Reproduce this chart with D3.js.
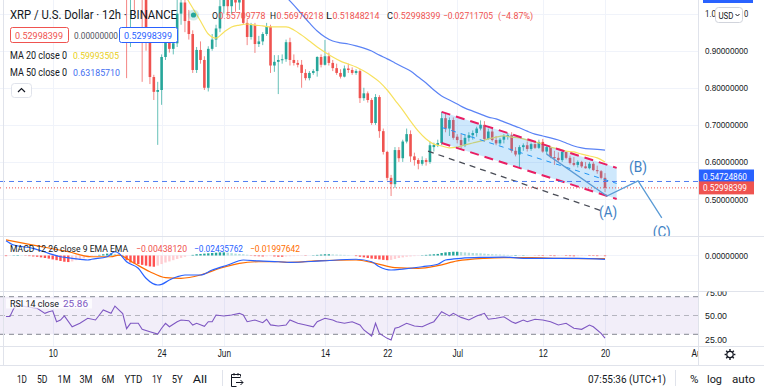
<!DOCTYPE html>
<html lang="en">
<head>
<meta charset="UTF-8">
<title>XRP / U.S. Dollar · 12h · BINANCE</title>
<script src="https://cdn.jsdelivr.net/npm/d3@7/dist/d3.min.js"></script>
<style>
  body { margin: 0; background: #fff; }
  svg { display: block; font-family: Roboto, "Liberation Sans", sans-serif; }
</style>
</head>
<body>
<svg id="chart" width="764" height="388"></svg>
<script>
// 12h candles, the first one opens 2021-05-04 00:00 UTC
var firstCandle = Date.UTC(2021, 4, 4);

var opens = [
  1.40,1.47,1.36,1.45,1.53,1.58,1.55,1.52,1.56,1.58,
  1.60,1.52,1.55,1.50,1.33,1.40,1.45,1.48,1.25,1.20,
  1.30,1.42,1.50,1.44,1.38,1.42,1.35,1.38,1.32,1.45,
  1.42,1.38,1.05,1.12,1.08,1.12,1.06,0.93,0.829,0.789,
  0.794,0.883,0.929,0.905,0.92,1.00,1.03,0.98,0.945,0.848,
  0.902,0.875,0.80,0.905,0.93,0.96,1.02,1.04,1.02,1.05,
  1.03,1.05,0.975,0.937,0.969,0.918,0.925,0.945,0.965,0.86,
  0.87,0.875,0.877,0.923,0.875,0.867,0.862,0.84,0.826,0.84,
  0.845,0.883,0.862,0.885,0.867,0.853,0.84,0.83,0.852,0.848,
  0.84,0.845,0.772,0.785,0.767,0.705,0.775,0.683,0.627,0.557,
  0.54,0.632,0.61,0.655,0.675,0.615,0.605,0.595,0.605,0.60,
  0.64,0.646,0.651,0.718,0.69,0.713,0.668,0.659,0.645,0.665,
  0.672,0.678,0.69,0.70,0.662,0.682,0.659,0.65,0.66,0.67,
  0.672,0.63,0.62,0.64,0.645,0.635,0.648,0.638,0.654,0.628,
  0.64,0.613,0.611,0.605,0.627,0.611,0.597,0.592,0.60,0.588,
  0.583,0.595,0.578,0.575,0.55709778
];
var highs = [
  1.52,1.50,1.48,1.58,1.62,1.60,1.58,1.60,1.63,1.66,
  1.62,1.58,1.57,1.52,1.43,1.48,1.52,1.50,1.28,1.32,
  1.45,1.55,1.52,1.46,1.45,1.47,1.40,1.42,1.48,1.50,
  1.44,1.40,1.20,1.18,1.16,1.14,1.08,0.95,0.835,0.816,
  0.89,0.94,0.95,0.935,1.05,1.07,1.06,1.01,0.955,0.91,
  0.925,0.885,0.912,0.945,0.97,1.07,1.08,1.10,1.08,1.09,
  1.07,1.06,0.985,0.975,0.975,0.94,0.95,0.975,0.97,0.888,
  0.888,0.89,0.93,0.935,0.89,0.875,0.875,0.85,0.845,0.85,
  0.885,0.89,0.929,0.895,0.875,0.865,0.85,0.86,0.865,0.855,
  0.85,0.85,0.80,0.79,0.772,0.783,0.78,0.69,0.63,0.565,
  0.64,0.64,0.66,0.69,0.685,0.625,0.61,0.615,0.61,0.655,
  0.652,0.66,0.735,0.73,0.72,0.72,0.675,0.675,0.675,0.68,
  0.685,0.695,0.712,0.71,0.69,0.69,0.67,0.665,0.675,0.678,
  0.68,0.64,0.645,0.65,0.655,0.652,0.65,0.66,0.662,0.645,
  0.642,0.63,0.626,0.63,0.628,0.617,0.613,0.604,0.603,0.60,
  0.60,0.60,0.59,0.578,0.56976218
];
var lows = [
  1.36,1.30,1.33,1.42,1.50,1.49,1.46,1.50,1.53,1.55,
  1.48,1.47,1.43,1.28,1.30,1.37,1.42,1.20,1.08,1.15,
  1.28,1.40,1.38,1.34,1.35,1.31,1.27,1.28,1.30,1.38,
  1.33,0.826,0.91,1.00,1.04,0.816,0.90,0.81,0.767,0.646,
  0.754,0.875,0.895,0.89,0.91,0.97,0.95,0.93,0.84,0.84,
  0.865,0.794,0.79,0.90,0.91,0.95,1.00,0.99,1.00,1.005,
  1.01,0.97,0.915,0.93,0.894,0.91,0.915,0.94,0.84,0.843,
  0.783,0.865,0.87,0.86,0.86,0.855,0.80,0.82,0.82,0.835,
  0.83,0.855,0.86,0.86,0.845,0.835,0.825,0.828,0.84,0.835,
  0.835,0.759,0.765,0.76,0.70,0.70,0.665,0.62,0.55,0.508,
  0.53,0.60,0.60,0.65,0.60,0.59,0.58,0.59,0.59,0.595,
  0.628,0.64,0.645,0.68,0.67,0.66,0.65,0.635,0.64,0.655,
  0.66,0.668,0.685,0.655,0.66,0.655,0.645,0.645,0.65,0.66,
  0.625,0.615,0.586,0.63,0.628,0.63,0.635,0.635,0.625,0.62,
  0.61,0.592,0.60,0.60,0.607,0.593,0.588,0.585,0.584,0.582,
  0.58,0.575,0.568,0.553,0.51848214
];
var closes = [
  1.47,1.36,1.45,1.53,1.58,1.55,1.52,1.56,1.58,1.60,
  1.52,1.55,1.50,1.33,1.40,1.45,1.48,1.25,1.20,1.30,
  1.42,1.50,1.44,1.38,1.42,1.35,1.38,1.32,1.45,1.42,
  1.38,1.05,1.12,1.08,1.12,1.06,0.93,0.829,0.789,0.794,
  0.883,0.929,0.905,0.92,1.00,1.03,0.98,0.945,0.848,0.902,
  0.875,0.80,0.905,0.93,0.96,1.02,1.04,1.02,1.05,1.03,
  1.05,0.975,0.937,0.969,0.918,0.925,0.945,0.965,0.86,0.87,
  0.875,0.877,0.923,0.875,0.867,0.862,0.84,0.826,0.84,0.845,
  0.883,0.862,0.885,0.867,0.853,0.84,0.83,0.852,0.848,0.84,
  0.845,0.772,0.785,0.767,0.705,0.775,0.683,0.627,0.557,0.54,
  0.632,0.61,0.655,0.675,0.615,0.605,0.595,0.605,0.60,0.645,
  0.646,0.651,0.718,0.69,0.713,0.665,0.659,0.645,0.665,0.672,
  0.678,0.69,0.70,0.662,0.682,0.659,0.65,0.66,0.67,0.672,
  0.63,0.62,0.64,0.645,0.635,0.648,0.638,0.654,0.628,0.64,
  0.613,0.611,0.605,0.627,0.611,0.597,0.592,0.60,0.588,0.583,
  0.595,0.578,0.575,0.557,0.52998399
];

// moving averages, one value per day (00:00 UTC)
var ma20Start = Date.UTC(2021, 4, 27);
var ma20 = [1.05,1.015,0.980,0.945,0.934,0.950,0.964,0.969,0.972,0.969,0.967,0.964,0.964,0.964,
  0.956,0.942,0.926,0.910,0.896,0.883,0.872,0.864,0.856,0.845,0.832,0.816,0.794,0.767,0.740,0.710,
  0.683,0.662,0.648,0.643,0.638,0.640,0.646,0.651,0.656,0.662,0.667,0.670,0.667,0.665,0.659,0.654,
  0.648,0.640,0.635,0.629,0.627,0.621,0.616,0.611,0.59993505];
var ma50Start = Date.UTC(2021, 5, 9);
var ma50 = [1.045,1.023,0.999,0.975,0.953,0.937,0.926,0.921,0.918,0.913,0.907,0.899,0.888,0.878,
  0.867,0.856,0.845,0.829,0.813,0.794,0.778,0.767,0.756,0.745,0.737,0.729,0.721,0.716,0.708,0.700,
  0.692,0.683,0.675,0.670,0.665,0.659,0.651,0.643,0.638,0.635,0.634,0.63185710];

// MACD 12 26 9, read at candle numbers
var macdAt = [0,2,7,11,14,17,21,22,26,28,29,31,34,36,39,40,42,44,46,50,53,57,61,65,70,73,81,90,94,96,99,102,107,111,113,117,123,128,133,140,147,154];
var macdLine = [0.095,0.067,0.046,0.014,-0.008,-0.018,-0.029,-0.024,-0.008,0.024,0.014,-0.04,-0.082,-0.146,-0.189,-0.185,-0.157,-0.136,-0.125,-0.125,-0.093,-0.061,-0.029,-0.035,-0.04,-0.044,-0.035,-0.024,-0.04,-0.072,-0.093,-0.087,-0.072,-0.056,-0.029,-0.018,-0.012,-0.01,-0.018,-0.018,-0.018,-0.02435762];
var signalAt = [0,7,16,22,27,29,33,37,41,45,50,55,60,65,70,73,81,90,95,100,106,111,116,123,128,135,142,154];
var signalLine = [0.10,0.067,0.024,-0.008,-0.008,0.003,-0.05,-0.104,-0.142,-0.146,-0.125,-0.082,-0.05,-0.04,-0.04,-0.044,-0.033,-0.029,-0.05,-0.078,-0.082,-0.065,-0.035,-0.018,-0.014,-0.014,-0.018,-0.01997642];
var histogram = [
  -0.004,-0.002,0.002,0.003,0.002,-0.002,-0.004,-0.006,-0.008,
  -0.012,-0.016,-0.02,-0.025,-0.03,-0.035,-0.04,-0.042,-0.038,-0.03,-0.024,-0.018,
  -0.012,-0.006,-0.002,0.004,0.008,0.012,0.014,0.01,0.006,0.004,
  -0.03,-0.045,-0.05,-0.055,-0.06,-0.065,-0.07,-0.072,
  -0.065,-0.055,-0.045,-0.038,-0.03,-0.022,-0.015,-0.008,
  0.0,0.004,0.008,0.01,0.012,0.014,0.016,0.018,0.02,0.02,0.018,0.015,0.012,0.01,0.008,0.005,
  -0.002,-0.004,-0.005,-0.006,-0.005,-0.004,-0.006,-0.008,
  -0.008,-0.006,-0.005,-0.004,-0.003,-0.002,-0.002,0.0,0.002,0.004,
  0.006,0.008,0.008,0.007,0.006,0.005,0.004,0.002,0.0,
  -0.004,-0.008,-0.012,-0.016,-0.02,-0.022,-0.025,-0.028,-0.03,-0.028,
  -0.022,-0.016,-0.012,-0.008,-0.006,-0.004,-0.002,
  0.002,0.004,0.006,0.008,0.01,0.016,0.02,0.022,0.024,0.024,0.022,0.02,0.018,0.016,0.015,0.014,0.012,0.01,0.008,
  0.007,0.006,0.005,0.004,0.003,0.003,0.002,0.002,0.001,0.0,
  -0.001,-0.002,-0.003,-0.002,-0.003,-0.004,-0.003,-0.002,-0.003,-0.004,-0.005,-0.004,-0.003,-0.002,-0.003,-0.003,-0.004,-0.003,-0.00438120
];

// RSI 14, read at candle numbers
var rsiAt = [0,1,2,3,5,8,10,11,12,13,14,15,17,19,21,23,24,25,27,28,29,30,31,32,34,35,37,39,40,41,42,44,45,47,48,49,51,52,53,54,56,58,60,61,62,64,66,67,68,70,72,73,75,77,79,80,82,84,85,87,89,91,92,94,95,96,98,99,100,101,103,105,107,109,110,112,114,115,117,119,121,123,124,126,128,130,131,133,134,136,138,140,142,144,146,148,150,151,153,154];
var rsi = [49,49,57.7,61,59.4,57.7,52.3,54,55,43.4,45.2,49.5,38,41.7,47,45.2,50.5,55.9,52.3,60,56,52,36,41.7,41.7,35.3,32.8,30.3,36.4,41.7,38,43.4,45.2,44.5,39.9,41.7,38.5,43.4,43.4,50.5,49.5,50.5,52.3,50.5,43.4,45.2,42.3,46,40,38.8,39.9,45.2,41.7,39.9,38,43.4,47,45.2,43.4,41.7,43.4,39.9,34.6,28.2,41.7,31,25.7,24,36.4,37.4,41.7,38.8,38,41.7,43.4,54,49.5,52.3,48,45.2,49.5,52.3,46,47,48.7,43.4,41.7,45.2,43.4,46,45.2,43.4,39.9,41.7,36.4,35.3,39.9,38,31,25.86];

// drawings: [candle number, price]
var channelTop = [[112, 0.735], [157, 0.584]];
var channelMid = [[112, 0.693], [157, 0.542]];
var channelBottom = [[112, 0.651], [157, 0.500]];
var supportLine = [[108.5, 0.629], [153.2, 0.468]];
var wave = [[139, 0.621], [154.5, 0.508], [162.5, 0.549], [168.6, 0.449]];
var waveLabels = ["(A)", "(B)", "(C)"];
var waveLabelAt = [[154.8, 0.465], [162.5, 0.586], [168.6, 0.411]];
var markedPrice = 0.54724860;
var lastPrice = 0.52998399;

var priceTicks = [0.5, 0.6, 0.7, 0.8, 0.9];
var topTick = 1.0;
var rsiTicks = [75, 50, 25];
var rsiLevels = [70, 50, 30];
var timeTicks = ["2021-05-10","2021-05-24","2021-06-01","2021-06-14","2021-06-22","2021-07-01","2021-07-12","2021-07-20","2021-08-01"];
var timeLabels = ["10","24","Jun","14","22","Jul","12","20","Aug"];

var UP = "#26a69a", DOWN = "#ef5350";
var HALF_DAY = 12 * 3600 * 1000, DAY = 2 * HALF_DAY;

var svg = d3.select("#chart");

var x = d3.scaleUtc()
    .domain([new Date(Date.UTC(2021, 4, 10)), new Date(Date.UTC(2021, 6, 20))])
    .range([52.7, 605]);
var y = d3.scaleLinear().domain([0.5, 0.9]).range([199, 50.7]);
var yMacd = d3.scaleLinear().domain([0, -0.1]).range([255.5, 271.1]);
var yRsi = d3.scaleLinear().domain([30, 70]).range([334.3, 296.7]);

function cx(i) { return x(new Date(firstCandle + i * HALF_DAY)); }

function label(g, px, py, s, o) {
    o = o || {};
    var t = g.append("text").attr("x", px).attr("y", py).text(s)
        .attr("font-size", o.size || 10)
        .attr("fill", o.fill || "#131722");
    if (o.anchor) t.attr("text-anchor", o.anchor);
    if (o.w) t.attr("textLength", o.w).attr("lengthAdjust", "spacingAndGlyphs");
    return t;
}

// squeeze text horizontally like the screenshot
function squeeze(sel, k) {
    sel.each(function () {
        var n = this.getComputedTextLength();
        this.setAttribute("textLength", n * k);
        this.setAttribute("lengthAdjust", "spacingAndGlyphs");
    });
}

var defs = svg.append("defs");
defs.append("clipPath").attr("id", "clipMain").append("rect")
    .attr("x", 0).attr("y", 0).attr("width", 698).attr("height", 236.5);
defs.append("clipPath").attr("id", "clipMacd").append("rect")
    .attr("x", 0).attr("y", 237).attr("width", 698).attr("height", 54);
defs.append("clipPath").attr("id", "clipRsi").append("rect")
    .attr("x", 0).attr("y", 291.5).attr("width", 698).attr("height", 55);
defs.append("clipPath").attr("id", "clipRsiAxis").append("rect")
    .attr("x", 699).attr("y", 291.5).attr("width", 65).attr("height", 55);
defs.append("clipPath").attr("id", "clipTime").append("rect")
    .attr("x", 0).attr("y", 347).attr("width", 698).attr("height", 18);

svg.append("rect").attr("width", 764).attr("height", 388).attr("fill", "#fff");

// grid
var grid = svg.append("g").attr("stroke", "#f0f3fa").attr("stroke-width", 1);
timeTicks.forEach(function (d) {
    var gx = Math.round(x(new Date(d + "T00:00Z"))) + 0.5;
    if (gx < 698) grid.append("line").attr("x1", gx).attr("x2", gx).attr("y1", 0).attr("y2", 346);
});
priceTicks.concat([topTick]).forEach(function (p) {
    var gy = Math.round(y(p)) + 0.5;
    grid.append("line").attr("x1", 0).attr("x2", 698).attr("y1", gy).attr("y2", gy);
});
grid.append("line").attr("x1", 0).attr("x2", 698).attr("y1", 255.5).attr("y2", 255.5);

// ---------- main pane ----------
var main = svg.append("g").attr("clip-path", "url(#clipMain)");
var candles = closes.map(function (c, i) {
    return { i: i, o: opens[i], h: highs[i], l: lows[i], c: c };
});

main.selectAll(".wick").data(candles).join("line")
    .attr("class", "wick")
    .attr("x1", function (d) { return cx(d.i); })
    .attr("x2", function (d) { return cx(d.i); })
    .attr("y1", function (d) { return y(d.h); })
    .attr("y2", function (d) { return y(d.l); })
    .attr("stroke", function (d) { return d.c >= d.o ? UP : DOWN; })
    .attr("stroke-opacity", 0.7)
    .attr("stroke-width", 1);

main.selectAll(".body").data(candles).join("rect")
    .attr("class", "body")
    .attr("x", function (d) { return cx(d.i) - 1.3; })
    .attr("width", 2.6)
    .attr("y", function (d) { return y(Math.max(d.o, d.c)); })
    .attr("height", function (d) { return Math.max(1, Math.abs(y(d.o) - y(d.c))); })
    .attr("fill", function (d) { return d.c >= d.o ? UP : DOWN; });

var maLine = d3.line()
    .x(function (d) { return x(d[0]); })
    .y(function (d) { return y(d[1]); })
    .curve(d3.curveMonotoneX);

main.append("path")
    .datum(ma20.map(function (v, k) { return [new Date(ma20Start + k * DAY), v]; }))
    .attr("d", maLine).attr("fill", "none").attr("stroke", "#f7e15e").attr("stroke-width", 1.2);
main.append("path")
    .datum(ma50.map(function (v, k) { return [new Date(ma50Start + k * DAY), v]; }))
    .attr("d", maLine).attr("fill", "none").attr("stroke", "#5b83f5").attr("stroke-width", 1.2);

// parallel channel
var pt = function (a) { return [cx(a[0]), y(a[1])]; };
main.append("path")
    .attr("d", d3.line()([pt(channelTop[0]), pt(channelTop[1]), pt(channelBottom[1]), pt(channelBottom[0])]) + "Z")
    .attr("fill", "#2196f3").attr("fill-opacity", 0.22);
[channelTop, channelBottom].forEach(function (seg) {
    main.append("path").attr("d", d3.line()(seg.map(pt)))
        .attr("stroke", "#e91e63").attr("stroke-width", 2)
        .attr("stroke-dasharray", "9,6").attr("fill", "none");
});
main.append("path").attr("d", d3.line()(channelMid.map(pt)))
    .attr("stroke", "#2196f3").attr("stroke-width", 1)
    .attr("stroke-dasharray", "5,5").attr("fill", "none");

// support line
main.append("path").attr("d", d3.line()(supportLine.map(pt)))
    .attr("stroke", "#4a4d57").attr("stroke-width", 1.3)
    .attr("stroke-dasharray", "6,5").attr("fill", "none");

// horizontal price lines
main.append("line").attr("x1", 0).attr("x2", 698)
    .attr("y1", y(markedPrice)).attr("y2", y(markedPrice))
    .attr("stroke", "#4f7df0").attr("stroke-width", 1).attr("stroke-dasharray", "5,4");
main.append("line").attr("x1", 0).attr("x2", 698)
    .attr("y1", y(lastPrice)).attr("y2", y(lastPrice))
    .attr("stroke", "#ef5350").attr("stroke-width", 1).attr("stroke-dasharray", "1,2");

// wave count
main.append("path").attr("d", d3.line()(wave.map(pt)))
    .attr("stroke", "#5b9bd5").attr("stroke-width", 1.3).attr("fill", "none");
waveLabels.forEach(function (s, k) {
    var p = pt(waveLabelAt[k]);
    label(main, p[0], p[1], s, { size: 14, fill: "#3f82c4", anchor: "middle", w: 18 })
        .attr("dominant-baseline", "central");
});

// legend
var leg = svg.append("g");
label(leg, 10, 19.3, "XRP / U.S. Dollar · 12h · BINANCE", { size: 12, w: 167 });
leg.append("circle").attr("cx", 193.5).attr("cy", 15).attr("r", 5.5).attr("fill", UP).attr("fill-opacity", 0.2);
leg.append("circle").attr("cx", 193.5).attr("cy", 15).attr("r", 2.6).attr("fill", UP);
var ohlcNames = ["O", "H", "L", "C"];
var ohlcValues = ["0.55709778", "0.56976218", "0.51848214", "0.52998399"];
var ohlcX = [212, 270, 326, 387];
ohlcNames.forEach(function (n, k) {
    label(leg, ohlcX[k], 19.3, n, { size: 8.8, w: 6 });
    label(leg, ohlcX[k] + 6.5, 19.3, ohlcValues[k], { size: 8.8, fill: DOWN, w: 47 });
});
label(leg, 443, 19.3, "\u22120.02711705", { size: 8.8, fill: DOWN, w: 50 });
label(leg, 498, 19.3, "(\u22124.87%)", { size: 8.8, fill: DOWN, w: 35 });

leg.append("rect").attr("x", 10.5).attr("y", 27.5).attr("width", 58).attr("height", 15).attr("rx", 2)
    .attr("fill", "#fff").attr("stroke", "#ef5350");
label(leg, 15, 38.5, "0.52998399", { size: 9, fill: DOWN, w: 48 });
label(leg, 74, 38.5, "0.00000000", { size: 9, fill: "#50535e", w: 44 });
leg.append("rect").attr("x", 119.5).attr("y", 27.5).attr("width", 58).attr("height", 15).attr("rx", 2)
    .attr("fill", "#fff").attr("stroke", "#2962ff");
label(leg, 124, 38.5, "0.52998399", { size: 9, fill: "#2962ff", w: 48 });

label(leg, 10, 59, "MA 20 close 0", { size: 10.5, w: 57 });
label(leg, 73, 59, "0.59993505", { size: 9.5, fill: "#e8cf1c", w: 46 });
label(leg, 10, 76, "MA 50 close 0", { size: 10.5, w: 57 });
label(leg, 73, 76, "0.63185710", { size: 9.5, fill: "#3f6ef0", w: 47 });

leg.append("rect").attr("x", 11.5).attr("y", 83.5).attr("width", 20).attr("height", 14).attr("rx", 3)
    .attr("fill", "#fff").attr("stroke", "#e0e3eb");
leg.append("path").attr("d", "M18,92 L21.5,88.5 L25,92").attr("fill", "none")
    .attr("stroke", "#131722").attr("stroke-width", 1.2);

// ---------- MACD pane ----------
var macdG = svg.append("g").attr("clip-path", "url(#clipMacd)");
macdG.selectAll(".hist").data(histogram).join("rect")
    .attr("class", "hist")
    .attr("x", function (d, i) { return cx(i) - 1.2; })
    .attr("width", 2.4)
    .attr("y", function (d) { return Math.min(yMacd(d), yMacd(0)); })
    .attr("height", function (d) { return Math.abs(yMacd(d) - yMacd(0)); })
    .attr("fill", function (d, i) {
        var prev = i > 0 ? histogram[i - 1] : d;
        if (d >= 0) return d >= prev ? "#26a69a" : "#b2dfdb";
        return d <= prev ? "#ff5252" : "#ffcdd2";
    });
var macdPath = d3.line()
    .x(function (d) { return cx(d[0]); })
    .y(function (d) { return yMacd(d[1]); })
    .curve(d3.curveMonotoneX);
macdG.append("path").datum(signalAt.map(function (a, k) { return [a, signalLine[k]]; }))
    .attr("d", macdPath).attr("fill", "none").attr("stroke", "#ff6d00").attr("stroke-width", 1.2);
macdG.append("path").datum(macdAt.map(function (a, k) { return [a, macdLine[k]]; }))
    .attr("d", macdPath).attr("fill", "none").attr("stroke", "#2962ff").attr("stroke-width", 1.2);

label(svg, 10, 251.7, "MACD 12 26 close 9 EMA EMA", { size: 9, fill: "#131722", w: 118 });
label(svg, 136, 251.7, "\u22120.00438120", { size: 9, fill: DOWN, w: 51 });
label(svg, 194, 251.7, "\u22120.02435762", { size: 9, fill: "#2962ff", w: 49 });
label(svg, 250, 251.7, "\u22120.01997642", { size: 9, fill: "#ff6d00", w: 50 });

// ---------- RSI pane ----------
var rsiG = svg.append("g").attr("clip-path", "url(#clipRsi)");
rsiG.append("rect").attr("x", 0).attr("width", 698)
    .attr("y", yRsi(70)).attr("height", yRsi(30) - yRsi(70))
    .attr("fill", "#7e57c2").attr("fill-opacity", 0.1);
rsiLevels.forEach(function (v) {
    rsiG.append("line").attr("x1", 0).attr("x2", 698)
        .attr("y1", yRsi(v)).attr("y2", yRsi(v))
        .attr("stroke", "#787b86").attr("stroke-opacity", v === 50 ? 0.5 : 0.9)
        .attr("stroke-dasharray", "5,4");
});
rsiG.append("path")
    .datum(rsiAt.map(function (a, k) { return [a, rsi[k]]; }))
    .attr("d", d3.line().x(function (d) { return cx(d[0]); }).y(function (d) { return yRsi(d[1]); }))
    .attr("fill", "none").attr("stroke", "#7e57c2").attr("stroke-width", 1.1);
svg.append("rect").attr("x", 6).attr("y", 298.5).attr("width", 86).attr("height", 10)
    .attr("fill", "#fff").attr("fill-opacity", 0.75);
label(svg, 10, 306.5, "RSI 14 close", { size: 9.5, w: 49 });
label(svg, 63, 306.5, "25.86", { size: 9.5, fill: "#7e57c2", w: 25 });

// ---------- separators ----------
var sep = svg.append("g").attr("stroke", "#e0e3eb").attr("stroke-width", 1);
[236.5, 291.5, 346.5, 365.5].forEach(function (sy) {
    sep.append("line").attr("x1", 0).attr("x2", 764).attr("y1", sy).attr("y2", sy);
});
sep.append("line").attr("x1", 698.5).attr("x2", 698.5).attr("y1", 0).attr("y2", 365.5);
sep.append("line").attr("x1", 3.5).attr("x2", 3.5).attr("y1", 0).attr("y2", 365.5);

// ---------- price axes ----------
var pAxis = svg.append("g").attr("transform", "translate(705,0)")
    .call(d3.axisRight(y).tickValues(priceTicks).tickSize(0).tickPadding(0).tickFormat(d3.format(".8f")));
pAxis.select(".domain").remove();
pAxis.selectAll("text").attr("font-size", 9.5).attr("fill", "#131722").attr("font-family", null)
    .attr("textLength", 43).attr("lengthAdjust", "spacingAndGlyphs");

// the 1.00000000 label sits under the currency button: only its ends show
label(svg, 705, y(topTick) + 3.3, "1.0", { size: 9.5, w: 11 });
label(svg, 744, y(topTick) + 3.3, "0", { size: 9.5, w: 4.3 });

var mAxis = svg.append("g").attr("transform", "translate(705,0)")
    .call(d3.axisRight(yMacd).tickValues([0]).tickSize(0).tickPadding(0).tickFormat(d3.format(".8f")));
mAxis.select(".domain").remove();
mAxis.selectAll("text").attr("font-size", 9.5).attr("fill", "#131722").attr("font-family", null)
    .attr("textLength", 43).attr("lengthAdjust", "spacingAndGlyphs");

var rAxis = svg.append("g").attr("clip-path", "url(#clipRsiAxis)")
    .append("g").attr("transform", "translate(705,0)")
    .call(d3.axisRight(yRsi).tickValues(rsiTicks).tickSize(0).tickPadding(0).tickFormat(d3.format(".2f")));
rAxis.select(".domain").remove();
rAxis.selectAll("text").attr("font-size", 9.5).attr("fill", "#131722").attr("font-family", null)
    .attr("textLength", 22).attr("lengthAdjust", "spacingAndGlyphs");

// price labels on the axis
svg.append("rect").attr("x", 699).attr("y", 169.5).attr("width", 55).attr("height", 13).attr("fill", "#2962ff");
label(svg, 703, 179.5, "0.54724860", { size: 9.5, fill: "#fff", w: 44 });
svg.append("rect").attr("x", 699).attr("y", y(lastPrice) - 6.5).attr("width", 55).attr("height", 13).attr("fill", "#ef5350");
label(svg, 703, y(lastPrice) + 3.5, "0.52998399", { size: 9.5, fill: "#fff", w: 44 });

svg.append("rect").attr("x", 703).attr("y", 0).attr("width", 50).attr("height", 3).attr("fill", "#2962ff");
svg.append("rect").attr("x", 715.5).attr("y", 7.5).attr("width", 27).attr("height", 15).attr("rx", 3)
    .attr("fill", "#fff").attr("stroke", "#d1d4dc");
label(svg, 718.5, 18.5, "USD", { size: 9.5, w: 15 });
svg.append("path").attr("d", "M735.5,14 L737.5,16 L739.5,14").attr("fill", "none")
    .attr("stroke", "#131722").attr("stroke-width", 1);

// ---------- time axis ----------
var tAxis = svg.append("g").attr("clip-path", "url(#clipTime)")
    .append("g").attr("transform", "translate(0,348)")
    .call(d3.axisBottom(x)
        .tickValues(timeTicks.map(function (d) { return new Date(d + "T00:00Z"); }))
        .tickSize(0).tickPadding(2)
        .tickFormat(function (d, i) { return timeLabels[i]; }));
tAxis.select(".domain").remove();
tAxis.selectAll("text").attr("font-size", 10).attr("fill", "#131722").attr("font-family", null);
squeeze(tAxis.selectAll("text"), 0.82);

// gear
var gear = svg.append("g").attr("transform", "translate(730,354.5)")
    .attr("stroke", "#131722").attr("fill", "none");
gear.append("circle").attr("r", 3.2).attr("stroke-width", 1.2);
d3.range(8).forEach(function (k) {
    var a = k * Math.PI / 4;
    gear.append("line").attr("x1", Math.cos(a) * 3.6).attr("y1", Math.sin(a) * 3.6)
        .attr("x2", Math.cos(a) * 5.4).attr("y2", Math.sin(a) * 5.4).attr("stroke-width", 1.4);
});

// ---------- bottom toolbar ----------
var tb = svg.append("g");
var ranges = [["1D", 17, 10], ["5D", 37, 10.5], ["1M", 57.6, 13], ["3M", 79.5, 13], ["6M", 101.5, 13],
              ["YTD", 124.4, 18], ["1Y", 152, 10], ["5Y", 171.7, 11], ["All", 192.7, 14.5]];
ranges.forEach(function (r) { label(tb, r[1], 383, r[0], { size: 10.5, w: r[2] }); });
tb.append("line").attr("x1", 222.5).attr("x2", 222.5).attr("y1", 370).attr("y2", 386).attr("stroke", "#e0e3eb");
var cal = tb.append("g").attr("stroke", "#131722").attr("fill", "none").attr("stroke-width", 1);
cal.append("path").attr("d", "M240.5,376.5 L240.5,374.5 L231.5,374.5 L231.5,386.5 L236.5,386.5");
cal.append("path").attr("d", "M231.5,377.5 L240.5,377.5 M234,373 L234,375.5 M238,373 L238,375.5");
cal.append("path").attr("d", "M236,382.5 L243,382.5 M240.5,380 L243,382.5 L240.5,385");
label(tb, 588, 383, "07:55:36 (UTC+1)", { size: 10.5, w: 78 });
tb.append("line").attr("x1", 675.5).attr("x2", 675.5).attr("y1", 370).attr("y2", 386).attr("stroke", "#e0e3eb");
label(tb, 690, 383, "%", { size: 10.5, w: 8.5 });
label(tb, 707, 383, "log", { size: 10.5, w: 15 });
label(tb, 732, 383, "auto", { size: 10.5, w: 23 });
</script>
</body>
</html>
